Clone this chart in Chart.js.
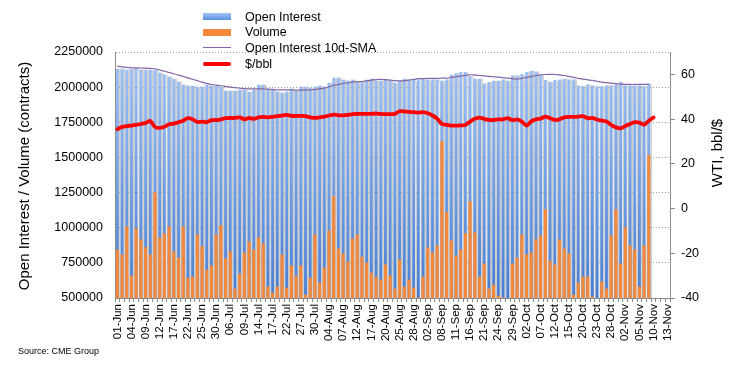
<!DOCTYPE html>
<html>
<head>
<meta charset="utf-8">
<script src="https://cdn.jsdelivr.net/npm/chart.js@4.4.1/dist/chart.umd.min.js"></script>
<style>
  html, body { margin: 0; padding: 0; background: #fff; }
  #wrap { position: relative; width: 742px; height: 376px; font-family: "Liberation Sans", Arial, sans-serif; color: #000; }
  #chart { position: absolute; left: 0; top: 0; }
  #legend { position: absolute; left: 203px; top: 9px; font-size: 12.5px; }
  #legend .item { height: 15.6px; display: flex; align-items: center; }
  #legend .sw { width: 28px; margin-right: 14px; }
  #source { position: absolute; left: 18px; top: 346px; font-size: 9px; }
</style>
</head>
<body>
<div id="wrap">
  <canvas id="chart" width="742" height="376"></canvas>
  <div id="legend"></div>
  <div id="source">Source: CME Group</div>
</div>
<script>
// business days 01-Jun .. 13-Nov (no 03-Jul, no 07-Sep)
const dates = [
  '01-Jun','02-Jun','03-Jun','04-Jun','05-Jun','08-Jun','09-Jun','10-Jun','11-Jun','12-Jun',
  '15-Jun','16-Jun','17-Jun','18-Jun','19-Jun','22-Jun','23-Jun','24-Jun','25-Jun','26-Jun',
  '29-Jun','30-Jun','01-Jul','02-Jul','06-Jul','07-Jul','08-Jul','09-Jul','10-Jul','13-Jul',
  '14-Jul','15-Jul','16-Jul','17-Jul','20-Jul','21-Jul','22-Jul','23-Jul','24-Jul','27-Jul',
  '28-Jul','29-Jul','30-Jul','31-Jul','03-Aug','04-Aug','05-Aug','06-Aug','07-Aug','10-Aug',
  '11-Aug','12-Aug','13-Aug','14-Aug','17-Aug','18-Aug','19-Aug','20-Aug','21-Aug','24-Aug',
  '25-Aug','26-Aug','27-Aug','28-Aug','31-Aug','01-Sep','02-Sep','03-Sep','04-Sep','08-Sep',
  '09-Sep','10-Sep','11-Sep','14-Sep','15-Sep','16-Sep','17-Sep','18-Sep','21-Sep','22-Sep',
  '23-Sep','24-Sep','25-Sep','28-Sep','29-Sep','30-Sep','01-Oct','02-Oct','05-Oct','06-Oct',
  '07-Oct','08-Oct','09-Oct','12-Oct','13-Oct','14-Oct','15-Oct','16-Oct','19-Oct','20-Oct',
  '21-Oct','22-Oct','23-Oct','26-Oct','27-Oct','28-Oct','29-Oct','30-Oct','02-Nov','03-Nov',
  '04-Nov','05-Nov','06-Nov','09-Nov','10-Nov','11-Nov','12-Nov','13-Nov'
];

// contracts
const openInterest = [
  2131000,2131000,2124000,2131000,2136000,2124000,2124000,2124000,2124000,2102000,
  2090000,2074000,2060000,2038000,2017000,2010000,2010000,2002000,2002000,2017000,
  2010000,2010000,2002000,1974000,1974000,1974000,1981000,1981000,1967000,1981000,
  2017000,2017000,1988000,1981000,1967000,1960000,1967000,1988000,1974000,2002000,
  2002000,1995000,2002000,2010000,2002000,2031000,2067000,2067000,2052000,2045000,
  2052000,2038000,2038000,2052000,2060000,2045000,2045000,2055000,2045000,2031000,
  2045000,2060000,2055000,2050000,2055000,2064000,2055000,2055000,2055000,2045000,
  2055000,2088000,2098000,2107000,2107000,2079000,2060000,2060000,2026000,2036000,
  2045000,2045000,2055000,2045000,2083000,2083000,2093000,2107000,2117000,2112000,
  2083000,2050000,2036000,2050000,2055000,2060000,2055000,2055000,2012000,2007000,
  2021000,2012000,2007000,2007000,2012000,2012000,2021000,2036000,2012000,2012000,
  2012000,2012000,2007000,2026000
];

const volume = [
  845000,810000,1009000,660000,995000,917000,862000,810000,1252000,931000,
  960000,1009000,831000,788000,1009000,645000,652000,952000,869000,702000,
  731000,952000,1017000,781000,831000,567000,674000,824000,902000,845000,
  931000,888000,581000,538000,581000,810000,574000,731000,660000,731000,
  524000,645000,952000,610000,717000,981000,1224000,852000,817000,760000,
  924000,952000,795000,752000,681000,652000,631000,738000,660000,567000,
  774000,581000,631000,574000,505000,652000,860000,824000,874000,1617000,
  1110000,910000,802000,845000,960000,1188000,967000,652000,745000,567000,
  595000,517000,505000,480000,745000,788000,952000,810000,824000,917000,
  945000,1131000,767000,738000,917000,852000,817000,524000,610000,652000,
  652000,510000,480000,617000,567000,945000,1131000,745000,1002000,874000,
  845000,581000,874000,1517000
];

const oiSma = [
  2150000,2144000,2140000,2138000,2137000,2136000,2135000,2133000,2131000,2122000,
  2113000,2104000,2095000,2086000,2076000,2066000,2056000,2046000,2036000,2027000,
  2019000,2014000,2010000,2005000,2000000,1996000,1993000,1990000,1988000,1988000,
  1988000,1987000,1986000,1984000,1981000,1981000,1981000,1980000,1979000,1979000,
  1979000,1981000,1983000,1988000,1993000,2002000,2012000,2019000,2026000,2031000,
  2036000,2038000,2040000,2045000,2050000,2054000,2055000,2053000,2050000,2046000,
  2045000,2045000,2050000,2055000,2060000,2061000,2062000,2062000,2063000,2064000,
  2064000,2069000,2074000,2079000,2084000,2088000,2086000,2083000,2080000,2077000,
  2074000,2071000,2067000,2064000,2060000,2057000,2063000,2069000,2076000,2083000,
  2087000,2090000,2090000,2090000,2087000,2083000,2076000,2069000,2063000,2057000,
  2052000,2048000,2042000,2036000,2032000,2029000,2025000,2021000,2020000,2019000,
  2019000,2019000,2019000,2019000
];

// $/bbl
const wtiPrice = [
  35.5,36.5,36.9,37.1,37.4,37.8,38.3,39.2,36.5,36.1,
  36.6,37.7,38.0,38.6,39.3,40.4,39.9,38.7,38.9,38.6,
  39.5,39.6,39.9,40.4,40.5,40.5,40.8,39.9,40.5,40.1,
  40.8,41.0,40.8,41.0,41.3,41.6,41.9,41.4,41.4,41.4,
  41.3,40.8,40.5,40.8,41.1,41.6,42.0,41.7,41.7,41.9,
  42.2,42.3,42.3,42.3,42.3,42.5,42.3,42.2,42.2,42.3,
  43.5,43.4,43.2,43.1,42.9,43.1,42.6,41.6,40.2,37.8,
  37.4,37.1,37.1,37.2,37.4,38.9,40.1,40.7,40.1,39.6,
  39.6,39.9,39.9,40.4,39.5,39.9,38.9,37.1,39.0,39.9,
  40.2,41.1,40.4,39.6,39.9,40.8,41.0,41.0,41.1,41.3,
  40.4,40.5,39.8,39.3,38.9,37.4,36.3,35.9,36.9,37.8,
  38.6,38.4,37.5,39.3,40.7
];

const leftTicks = [500000,750000,1000000,1250000,1500000,1750000,2000000,2250000];
const rightTicks = [-40,-20,0,20,40,60];

const FONT = '"Liberation Sans", Arial, sans-serif';
const AXIS_GREY = '#8c8c8c';

function oiGradient(context) {
  const { ctx, chartArea } = context.chart;
  if (!chartArea) return '#7faaf0';
  const g = ctx.createLinearGradient(0, chartArea.top, 0, chartArea.bottom);
  g.addColorStop(0, '#a3c6f8');
  g.addColorStop(1, '#477dd2');
  return g;
}

// light grey drop shadow to the right of the OI bars
const barShadow = {
  id: 'barShadow',
  beforeDatasetDraw(chart, args) {
    if (args.index === 0) {
      const ctx = chart.ctx;
      ctx.save();
      ctx.shadowColor = 'rgba(175,175,175,0.6)';
      ctx.shadowOffsetX = 2;
      ctx.shadowOffsetY = 0;
      ctx.shadowBlur = 1;
    }
  },
  afterDatasetDraw(chart, args) {
    if (args.index === 0) chart.ctx.restore();
  }
};

// axis titles (both read bottom to top)
function drawTitle(ctx, text, x, y) {
  ctx.save();
  ctx.fillStyle = '#000';
  ctx.font = '15px ' + FONT;
  ctx.textAlign = 'center';
  ctx.textBaseline = 'middle';
  ctx.translate(x, y);
  ctx.rotate(-Math.PI / 2);
  ctx.fillText(text, 0, 0);
  ctx.restore();
}

const axisTitles = {
  id: 'axisTitles',
  afterDraw(chart) {
    drawTitle(chart.ctx, 'Open Interest / Volume (contracts)', 25, 176);
    drawTitle(chart.ctx, 'WTI, bbl/$', 718, 153);
  }
};

const chart = new Chart(document.getElementById('chart'), {
  type: 'bar',
  data: {
    labels: dates,
    datasets: [
      {
        label: 'Open Interest',
        data: openInterest,
        backgroundColor: oiGradient,
        yAxisID: 'y',
        grouped: false,
        barPercentage: 0.6,
        categoryPercentage: 1,
        order: 3
      },
      {
        label: 'Volume',
        data: volume,
        backgroundColor: '#f5893b',
        yAxisID: 'y',
        grouped: false,
        barPercentage: 0.66,
        categoryPercentage: 1,
        order: 2
      },
      {
        type: 'line',
        label: 'Open Interest 10d-SMA',
        data: oiSma,
        borderColor: '#8466a8',
        borderWidth: 1.2,
        pointRadius: 0,
        tension: 0.4,
        yAxisID: 'y',
        order: 1
      },
      {
        type: 'line',
        label: '$/bbl',
        data: wtiPrice,
        borderColor: '#ff0000',
        borderWidth: 3.8,
        pointRadius: 0,
        tension: 0.25,
        borderCapStyle: 'round',
        borderJoinStyle: 'round',
        yAxisID: 'y1',
        order: 0
      }
    ]
  },
  options: {
    responsive: false,
    animation: false,
    layout: { padding: { top: 52, left: 0, right: 0, bottom: 0 } },
    plugins: {
      legend: { display: false },
      tooltip: { enabled: false }
    },
    scales: {
      x: {
        offset: true,
        grid: { display: true, drawOnChartArea: false, drawTicks: true, tickLength: 4, tickColor: AXIS_GREY, offset: true },
        border: { display: true, color: AXIS_GREY, width: 1 },
        ticks: {
          autoSkip: false,
          minRotation: 90,
          maxRotation: 90,
          padding: 2,
          color: '#000',
          font: { family: FONT, size: 11.5 },
          callback: (v, i) => (i % 3 === 0 ? dates[i] : '')
        },
        afterFit: (s) => { s.height = 78; }
      },
      y: {
        position: 'left',
        min: 500000,
        max: 2250000,
        afterBuildTicks: (s) => { s.ticks = leftTicks.map(v => ({ value: v })); },
        grid: { color: '#9a9a9a', lineWidth: 1, drawTicks: false },
        border: { display: true, color: AXIS_GREY, width: 1, dash: [1, 2] },
        ticks: {
          padding: 12,
          color: '#000',
          font: { family: FONT, size: 12.5 },
          callback: (v) => String(v)
        },
        afterFit: (s) => { s.width = 115; }
      },
      y1: {
        position: 'right',
        min: -40,
        max: 70,
        afterBuildTicks: (s) => { s.ticks = rightTicks.map(v => ({ value: v })); },
        grid: { drawOnChartArea: false, drawTicks: true, tickLength: 5, tickColor: AXIS_GREY },
        border: { display: true, color: AXIS_GREY, width: 1 },
        ticks: {
          padding: 6,
          color: '#000',
          font: { family: FONT, size: 12.5 },
          callback: (v) => String(v)
        },
        afterFit: (s) => { s.width = 72; }
      }
    }
  },
  plugins: [barShadow, axisTitles]
});

// legend in a column, built from the datasets
const legend = document.getElementById('legend');
chart.data.datasets.forEach((ds) => {
  const item = document.createElement('div');
  item.className = 'item';
  const sw = document.createElement('span');
  sw.className = 'sw';
  if (ds.type === 'line') {
    sw.style.height = Math.max(1, Math.round(ds.borderWidth)) + 'px';
    sw.style.background = ds.borderColor;
    if (ds.borderWidth > 2) sw.style.borderRadius = '2px';
  } else if (ds.label === 'Open Interest') {
    sw.style.height = '7px';
    sw.style.background = 'linear-gradient(#a3c6f8, #5a8ede)';
  } else {
    sw.style.height = '7px';
    sw.style.background = ds.backgroundColor;
  }
  const txt = document.createElement('span');
  txt.textContent = ds.label;
  item.appendChild(sw);
  item.appendChild(txt);
  legend.appendChild(item);
});
</script>
</body>
</html>
